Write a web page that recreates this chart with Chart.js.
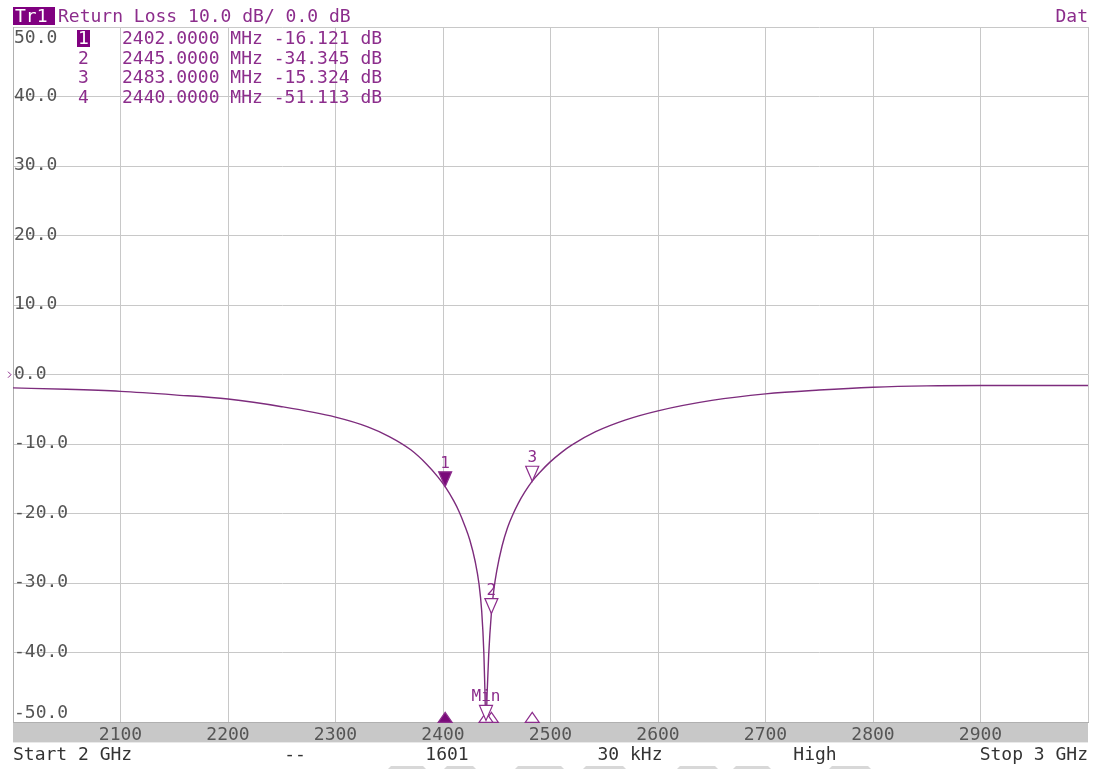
<!DOCTYPE html>
<html>
<head>
<meta charset="utf-8">
<script src="https://cdn.jsdelivr.net/npm/chart.js@4/dist/chart.umd.min.js"></script>
<style>
  html, body { margin: 0; padding: 0; background: #fff; }
  #wrap { width: 1098px; height: 769px; position: relative; }
</style>
</head>
<body>
<div id="wrap"><canvas id="myChart"></canvas></div>
<script>
// trace (MHz, dB)
var freqMHz = [2000, 2050, 2100, 2150, 2200, 2250, 2300, 2330, 2350, 2370, 2385, 2395, 2402, 2410, 2415, 2420, 2425, 2430, 2433.5, 2436, 2438, 2439, 2440,
	2441, 2442.5, 2445, 2447.5, 2450, 2455, 2460, 2465, 2470, 2476, 2483, 2490, 2500, 2510, 2520, 2542, 2570, 2600, 2650, 2700, 2750, 2800, 2850, 2900, 3000];
var returnLossDb = [-1.9, -2.1, -2.4, -2.9, -3.5, -4.6, -6.1, -7.5, -8.9, -10.8, -12.9, -14.65, -16.1, -18.15, -19.7, -21.6, -23.8, -26.9, -30.1, -34, -40, -45.5, -51.1,
	-46, -40.3, -34.3, -30.7, -28.2, -24.6, -22.0, -20.1, -18.5, -16.9, -15.3, -14.05, -12.5, -11.2, -10.1, -8.2, -6.5, -5.2, -3.7, -2.75, -2.2, -1.8, -1.6, -1.55, -1.55];

// marker table
var markerIds = ['1', '2', '3', '4'];
var markerTags = ['1', '2', '3', 'Min'];
var markerFreqs = [2402, 2445, 2483, 2440];
var markerValues = [-16.121, -34.345, -15.324, -51.113];

var yTicks = [50, 40, 30, 20, 10, 0, -10, -20, -30, -40, -50];
var xTicks = [2100, 2200, 2300, 2400, 2500, 2600, 2700, 2800, 2900];

var headerText = 'Return Loss 10.0 dB/ 0.0 dB';
var statusTexts = ['Start 2 GHz', '--', '1601', '30 kHz', 'High', 'Stop 3 GHz'];

var purple = '#8c2d8c';
var trace = '#7d2c7d';
var mono = '"DejaVu Sans Mono", "Liberation Mono", monospace';

var points = [];
freqMHz.forEach(function(f, i){
	points.push({x: f, y: returnLossDb[i]});
});

function tri(ctx, x, y, w, h, dir, filled){
	// tip at (x,y); dir 1 = pointing down, -1 = pointing up
	ctx.beginPath();
	ctx.moveTo(x, y);
	ctx.lineTo(x - w/2, y - dir*h);
	ctx.lineTo(x + w/2, y - dir*h);
	ctx.closePath();
	ctx.fillStyle = filled ? '#7a0a7a' : '#fff';
	ctx.fill();
	ctx.strokeStyle = purple;
	ctx.lineWidth = 1.2;
	ctx.stroke();
}

var analyzerPlugin = {
	id: 'analyzer',
	beforeDraw: function(chart){
		var ctx = chart.ctx, a = chart.chartArea;
		ctx.save();
		ctx.fillStyle = '#fff';
		ctx.fillRect(0, 0, chart.width, chart.height);
		ctx.fillStyle = '#c8c8c8';
		ctx.fillRect(a.left, a.bottom, a.right - a.left, 20);
		ctx.restore();
	},
	afterDraw: function(chart){
		var ctx = chart.ctx, a = chart.chartArea;
		var xs = chart.scales.x, ys = chart.scales.y;
		ctx.save();
		ctx.font = '18px ' + mono;
		ctx.textBaseline = 'alphabetic';

		// header
		ctx.fillStyle = '#800080';
		ctx.fillRect(a.left, 7, 42, 18);
		ctx.fillStyle = '#fff';
		ctx.textAlign = 'left';
		ctx.fillText('Tr1', a.left + 2, 22);
		ctx.fillStyle = purple;
		ctx.fillText(headerText, 58, 22);
		ctx.textAlign = 'right';
		ctx.fillText('Dat', a.right, 22);

		// y labels inside the plot
		ctx.textAlign = 'left';
		ctx.fillStyle = '#555';
		yTicks.forEach(function(v){
			var y = ys.getPixelForValue(v) + 4;
			if(y - 13 < a.top + 2) y = a.top + 16;
			if(y > a.bottom - 3) y = a.bottom - 4;
			ctx.fillText(v.toFixed(1), a.left + 1, y);
		});

		// reference arrow at 0 dB
		var y0 = ys.getPixelForValue(0);
		ctx.strokeStyle = purple;
		ctx.lineWidth = 1;
		ctx.beginPath();
		ctx.moveTo(a.left - 5, y0 - 3);
		ctx.lineTo(a.left - 2, y0);
		ctx.lineTo(a.left - 5, y0 + 3);
		ctx.stroke();

		// marker table
		markerIds.forEach(function(id, i){
			var by = 44 + i*19.7;
			if(i === 0){
				ctx.fillStyle = '#800080';
				ctx.fillRect(77, by - 14, 13, 17);
				ctx.fillStyle = '#fff';
			}else{
				ctx.fillStyle = purple;
			}
			ctx.textAlign = 'center';
			ctx.fillText(id, 83.5, by);
			ctx.fillStyle = purple;
			ctx.textAlign = 'left';
			ctx.fillText(markerFreqs[i].toFixed(4) + ' MHz ' + markerValues[i].toFixed(3) + ' dB', 122, by);
		});

		// markers on the axis band, then on the trace
		ctx.font = '16px ' + mono;
		ctx.textAlign = 'center';
		[0, 2, 1, 3].forEach(function(i){
			var px = xs.getPixelForValue(markerFreqs[i]);
			tri(ctx, px, a.bottom - 10, 14, 10, -1, i === 0);
		});
		[0, 2, 1, 3].forEach(function(i){
			var px = xs.getPixelForValue(markerFreqs[i]);
			var py = Math.min(ys.getPixelForValue(markerValues[i]), a.bottom - 2);
			tri(ctx, px, py, 13, 15, 1, i === 0);
			ctx.fillStyle = purple;
			ctx.fillText(markerTags[i], px, py - 19);
		});

		// status line
		ctx.font = '18px ' + mono;
		ctx.fillStyle = '#333';
		var cols = [a.left, 295, 447, 630, 815, a.right];
		statusTexts.forEach(function(t, i){
			ctx.textAlign = i === 0 ? 'left' : (i === statusTexts.length - 1 ? 'right' : 'center');
			ctx.fillText(t, cols[i], 760);
		});

		// faint watermark along the bottom edge
		ctx.fillStyle = '#d8d8d8';
		[[388, 426], [444, 476], [515, 564], [583, 626], [677, 718], [733, 771], [829, 871]].forEach(function(s){
			ctx.beginPath();
			ctx.moveTo(s[0] + 3, 766);
			ctx.lineTo(s[1] - 3, 766);
			ctx.lineTo(s[1], 769);
			ctx.lineTo(s[0], 769);
			ctx.closePath();
			ctx.fill();
		});
		ctx.restore();
	}
};

var ctx = document.getElementById('myChart').getContext('2d');
var myLineChart = new Chart(ctx, {
	type: 'line',
	data: {
		datasets: [{
			label: 'Tr1',
			data: points,
			borderColor: trace,
			borderWidth: 1.4,
			pointRadius: 0,
			cubicInterpolationMode: 'monotone',
			clip: 0
		}]
	},
	options: {
		responsive: true,
		maintainAspectRatio: false,
		animation: false,
		layout: {padding: {left: 13, right: 10, top: 27, bottom: 21}},
		plugins: {legend: {display: false}, tooltip: {enabled: false}},
		scales: {
			x: {
				type: 'linear',
				min: 2000,
				max: 3000,
				afterBuildTicks: function(scale){
					scale.ticks = [2000].concat(xTicks, [3000]).map(function(v){ return {value: v}; });
				},
				ticks: {
					autoSkip: false,
					maxRotation: 0,
					padding: 2,
					color: '#555',
					font: {family: mono, size: 18},
					callback: function(v){ return xTicks.indexOf(v) >= 0 ? String(v) : ''; }
				},
				grid: {color: '#c8c8c8', drawTicks: false},
				border: {color: '#b0b0b0'}
			},
			y: {
				min: -50,
				max: 50,
				afterBuildTicks: function(scale){
					scale.ticks = yTicks.map(function(v){ return {value: v}; });
				},
				ticks: {display: false},
				grid: {color: '#c8c8c8', drawTicks: false},
				border: {color: '#b0b0b0'}
			}
		}
	},
	plugins: [analyzerPlugin]
});
</script>
</body>
</html>
